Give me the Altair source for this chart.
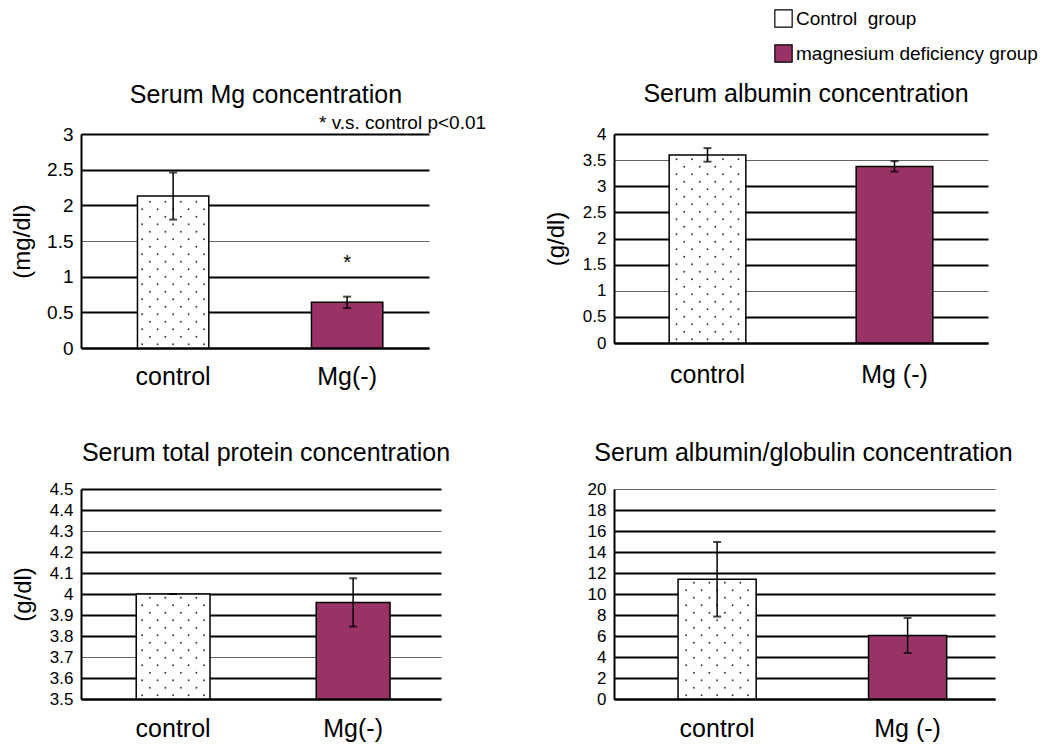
import altair as alt
import pandas as pd

# ---------------- data ----------------
groups = ["Control \u00a0group", "magnesium deficiency group"]
titles = [
    "Serum Mg concentration",
    "Serum albumin concentration",
    "Serum total protein concentration",
    "Serum albumin/globulin concentration",
]
y_titles = ["(mg/dl)", "(g/dl)", "(g/dl)", ""]
cats = [
    ["control", "Mg(-)"],
    ["control", "Mg (-)"],
    ["control", "Mg(-)"],
    ["control", "Mg (-)"],
]
means = [
    [2.13, 0.64],
    [3.60, 3.38],
    [4.00, 3.96],
    [11.4, 6.05],
]
errs = [
    [0.33, 0.08],
    [0.13, 0.10],
    [0.0, 0.115],
    [3.55, 1.67],
]
domains = [[0, 3], [0, 4], [3.5, 4.5], [0, 20]]
tick_values = [
    [0, 0.5, 1, 1.5, 2, 2.5, 3],
    [0, 0.5, 1, 1.5, 2, 2.5, 3, 3.5, 4],
    [3.5, 3.6, 3.7, 3.8, 3.9, 4.0, 4.1, 4.2, 4.3, 4.4, 4.5],
    [0, 2, 4, 6, 8, 10, 12, 14, 16, 18, 20],
]
note_text = "* v.s. control p<0.01"
star_marks = ["", "*"]
star_y = [None, 1.26]

# ---------------- styling ----------------
FONT = "Liberation Sans"
PURPLE = "#993366"
widths = [348, 374, 360, 381]
heights = [214, 209, 210, 210]
tick_font = [19, 17, 17, 17]
title_dx = [11, 5, 5, -1]
title_offset = [6, 18, 14, 14]
ytitle_pad = [12, 14, 14, 0]
xlabel_pad = [16, 19, 17, 17]
band_align = [0.55, 0.5, 0.52, 0.57]
thin_grid = [[1.5], [3.5, 1], [4.3, 3.7], [20]]
DOT_DX = 7.75  # horizontal spacing of the dot lattice (px)
DOT_DY = 7.5   # vertical spacing of the dot lattice (px)


def panel(i):
    lo, hi = domains[i]
    df = pd.DataFrame({
        "cat": cats[i],
        "mean": means[i],
        "err": errs[i],
        "group": groups,
    })
    base = alt.Chart(df)
    xaxis = alt.Axis(
        title=None, labelAngle=0, labelFontSize=25, labelPadding=xlabel_pad[i],
        labelColor="black", ticks=False, domainColor="black", domainWidth=2,
        grid=False, labelFont=FONT,
    )
    xscale = alt.Scale(domain=cats[i], paddingInner=0.59, paddingOuter=0.295,
                       align=band_align[i])

    def X():
        return alt.X("cat:N", scale=xscale, axis=xaxis)

    yscale = alt.Scale(domain=[lo, hi], nice=False, zero=False)
    test = f"indexof({thin_grid[i]}, datum.value) >= 0"
    gcol = {"condition": {"test": test, "value": "#666666"}, "value": "black"}
    gwid = {"condition": {"test": test, "value": 1}, "value": 2}
    axis_kw = dict(
        values=tick_values[i], format="~g", labelFontSize=tick_font[i],
        labelColor="black", labelFont=FONT, ticks=False, labelPadding=8,
        domainColor="black", domainWidth=2, gridColor=gcol, gridWidth=gwid,
    )
    if y_titles[i]:
        axis_kw.update(title=y_titles[i], titleFontSize=24, titleFontWeight="normal",
                       titleColor="black", titleFont=FONT, titlePadding=ytitle_pad[i])
    else:
        axis_kw.update(title=None)
    yaxis = alt.Axis(**axis_kw)

    def Y(field):
        return alt.Y(field, scale=yscale, axis=yaxis)

    bars = base.mark_bar(stroke="black", strokeWidth=1.5).encode(
        x=X(),
        y=Y("mean:Q"),
        y2=alt.datum(lo),
        fill=alt.Fill(
            "group:N",
            scale=alt.Scale(domain=groups, range=["white", PURPLE]),
            legend=(alt.Legend(
                title=None, orient="none", legendX=693, legendY=-125,
                symbolType="square", symbolSize=300, symbolStrokeColor="black",
                symbolStrokeWidth=1.2, labelFontSize=19, labelFont=FONT,
                labelColor="black", rowPadding=12, labelOffset=3, padding=0,
                labelLimit=500,
            ) if i == 0 else None),
        ),
    )

    # dotted texture of the control bar (diamond lattice, 9 sub-columns)
    step = DOT_DY * (hi - lo) / heights[i]
    dot_src = alt.Chart(alt.sequence(0, 60, as_="row")).transform_calculate(
        cat=f"'{cats[i][0]}'",
        mean=f"{lo} + (datum.row + 0.5) * {step}",
    ).transform_filter(
        f"datum.mean < {means[i][0]} - {step * 0.3}"
    )
    dot_layers = []
    for c in range(9):
        dot_layers.append(
            dot_src.transform_filter(f"(datum.row + {c}) % 2 == 0")
            .mark_circle(size=3.5, color="#333333", opacity=1,
                         xOffset=(c - 4) * DOT_DX)
            .encode(x=X(), y=Y("mean:Q"))
        )

    eb = base.transform_calculate(
        lo="datum.mean - datum.err", hi="datum.mean + datum.err"
    )
    rule = eb.mark_rule(color="black", strokeWidth=1.5).encode(
        x=X(), y=Y("lo:Q"), y2="hi:Q"
    )
    cap_lo = eb.mark_tick(color="black", size=8, thickness=2).encode(
        x=X(), y=Y("lo:Q")
    )
    cap_hi = eb.mark_tick(color="black", size=8, thickness=2).encode(
        x=X(), y=Y("hi:Q")
    )
    layers = [bars] + dot_layers + [rule, cap_lo, cap_hi]

    if i == 0:
        sdf = pd.DataFrame({"cat": cats[i], "star": star_marks, "sy": star_y}).dropna()
        star = alt.Chart(sdf).mark_text(
            fontSize=20, font=FONT, color="black", baseline="middle", dy=5
        ).encode(
            x=X(), y=Y("sy:Q"), text="star:N"
        )
        note = alt.Chart(pd.DataFrame({"t": [note_text]})).mark_text(
            fontSize=19, font=FONT, color="black", align="left", baseline="middle"
        ).encode(x=alt.value(238), y=alt.value(-11), text="t:N")
        layers += [star, note]

    return alt.layer(*layers).properties(
        width=widths[i],
        height=heights[i],
        title=alt.TitleParams(
            text=titles[i], fontSize=25, font=FONT, fontWeight="normal",
            color="black", anchor="middle", frame="group",
            offset=title_offset[i], dx=title_dx[i],
        ),
    )


chart = alt.concat(
    panel(0), panel(1), panel(2), panel(3),
    columns=2, bounds="flush", align="each",
    spacing={"row": 141, "column": 173},
).properties(
    padding={"left": 10, "top": 9, "right": 5, "bottom": 5},
    background="white",
).configure(font=FONT, view=alt.ViewConfig(stroke=None))

chart.save("out.html", embed_options={"renderer": "svg", "actions": False})
